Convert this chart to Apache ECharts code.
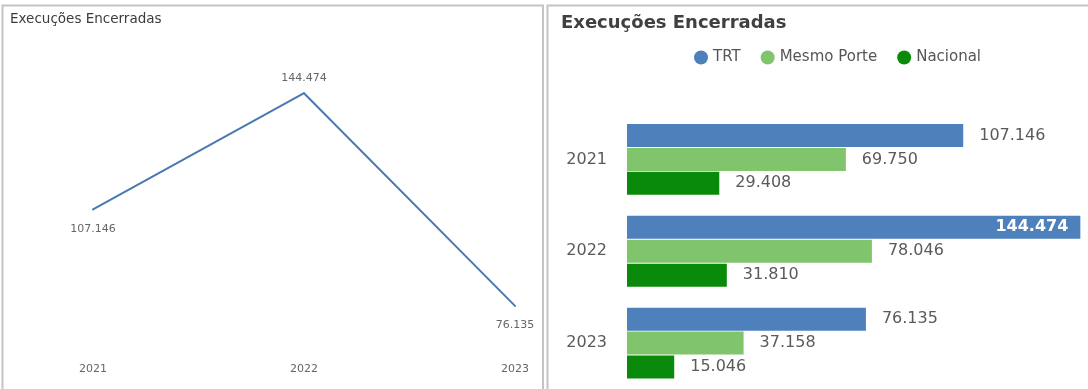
<!DOCTYPE html>
<html>
<head>
<meta charset="utf-8">
<script src="https://cdn.jsdelivr.net/npm/echarts@6/dist/echarts.min.js"></script>
<style>
  html, body { margin: 0; padding: 0; background: #fff; }
  #chart { width: 1088px; height: 389px; }
</style>
</head>
<body>
<div id="chart"></div>
<script>
// Execuções encerradas por ano
const years = ['2021', '2022', '2023'];
const trt = [107146, 144474, 76135];
const mesmoPorte = [69750, 78046, 37158];
const nacional = [29408, 31810, 15046];
const seriesNames = ['TRT', 'Mesmo Porte', 'Nacional'];
const titleText = 'Execuções Encerradas';

const FONT = 'DejaVu Sans';
const fmt = v => String(v).replace(/\B(?=(\d{3})+(?!\d))/g, '.');

const chart = echarts.init(document.getElementById('chart'), null, { renderer: 'canvas' });

// the longest bar carries its label inside, in white
const barMax = Math.max(...trt, ...mesmoPorte, ...nacional);
const barData = arr => arr.map(v => v === barMax
  ? { value: v, label: { position: 'insideRight', distance: 12, color: '#ffffff', fontWeight: 'bold' } }
  : v);

// line labels: peak above, the rest below
const lineMax = Math.max(...trt);
const lineData = trt.map(v => v === lineMax
  ? { value: v, label: { position: 'top', distance: 9 } }
  : { value: v, label: { position: 'bottom', distance: 13 } });

const barLabel = {
  show: true,
  position: 'right',
  distance: 16,
  color: '#5a5a5a',
  fontFamily: FONT,
  fontSize: 16,
  formatter: p => fmt(p.value)
};

chart.setOption({
  animation: false,
  backgroundColor: '#ffffff',
  graphic: [
    {
      type: 'rect', silent: true,
      shape: { x: 2.5, y: 5.5, width: 540.5, height: 400 },
      style: { fill: 'none', stroke: '#c4c4c4', lineWidth: 2 }
    },
    {
      type: 'rect', silent: true,
      shape: { x: 547.5, y: 5.5, width: 560, height: 400 },
      style: { fill: 'none', stroke: '#c4c4c4', lineWidth: 2 }
    }
  ],
  title: [
    {
      text: titleText, left: 10, top: 12, padding: 0,
      textStyle: { fontFamily: FONT, fontSize: 13.5, fontWeight: 'normal', color: '#3c3c3c' }
    },
    {
      text: titleText, left: 561, top: 14, padding: 0,
      textStyle: { fontFamily: FONT, fontSize: 18, fontWeight: 'bold', color: '#404040' }
    }
  ],
  legend: {
    data: seriesNames,
    left: 694, top: 50, padding: 0,
    icon: 'circle', itemWidth: 14, itemHeight: 14, itemGap: 20,
    textStyle: { fontFamily: FONT, fontSize: 15, color: '#555555' }
  },
  grid: [
    { left: 93, top: 76, width: 422, height: 249 },
    { left: 627, top: 113.5, width: 455, height: 279 }
  ],
  xAxis: [
    {
      gridIndex: 0, type: 'category', data: years, boundaryGap: false,
      axisLine: { show: false }, axisTick: { show: false },
      axisLabel: { margin: 39, color: '#666666', fontFamily: FONT, fontSize: 11 }
    },
    {
      gridIndex: 1, type: 'value', min: 0, max: 145000, show: false,
      splitLine: { show: false }
    }
  ],
  yAxis: [
    {
      gridIndex: 0, type: 'value', min: 70000, max: 150000, show: false,
      splitLine: { show: false }
    },
    {
      gridIndex: 1, type: 'category', data: years, inverse: true,
      axisLine: { show: false }, axisTick: { show: false },
      axisLabel: { margin: 20, color: '#5a5a5a', fontFamily: FONT, fontSize: 16 }
    }
  ],
  series: [
    {
      name: titleText, type: 'line', xAxisIndex: 0, yAxisIndex: 0,
      data: lineData, symbol: 'circle', symbolSize: 2, showSymbol: true,
      itemStyle: { color: '#4a78b2' },
      lineStyle: { color: '#4a78b2', width: 2 },
      label: {
        show: true, color: '#666666', fontFamily: FONT, fontSize: 11,
        formatter: p => fmt(p.value)
      }
    },
    {
      name: seriesNames[0], type: 'bar', xAxisIndex: 1, yAxisIndex: 1,
      data: barData(trt), barWidth: 23, barGap: '4%',
      itemStyle: { color: '#4e80bc' }, label: barLabel
    },
    {
      name: seriesNames[1], type: 'bar', xAxisIndex: 1, yAxisIndex: 1,
      data: barData(mesmoPorte), barWidth: 23, barGap: '4%',
      itemStyle: { color: '#80c46c' }, label: barLabel
    },
    {
      name: seriesNames[2], type: 'bar', xAxisIndex: 1, yAxisIndex: 1,
      data: barData(nacional), barWidth: 23, barGap: '4%',
      itemStyle: { color: '#0a8a0a' }, label: barLabel
    }
  ]
});
</script>
</body>
</html>
